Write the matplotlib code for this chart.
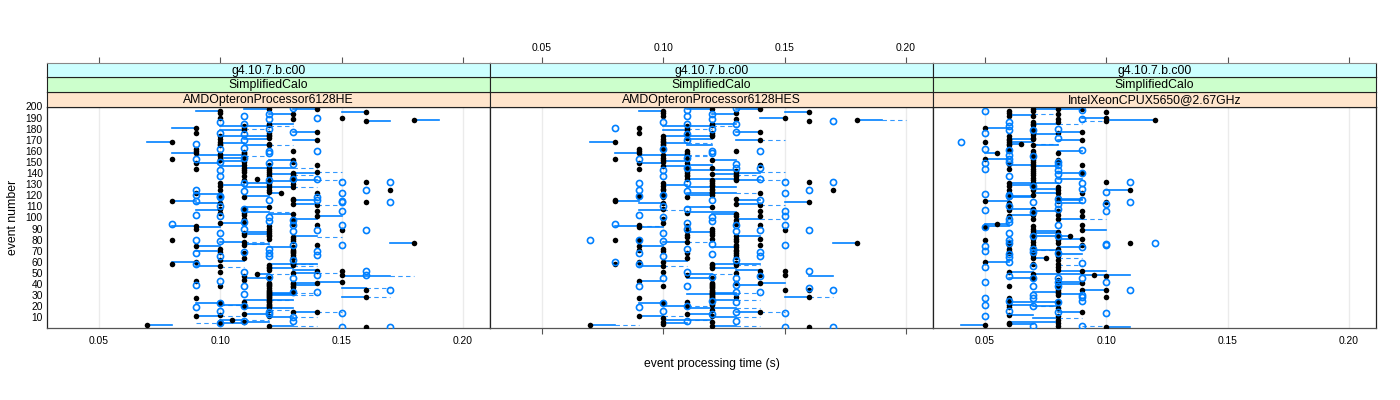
import matplotlib
matplotlib.use('Agg')
import matplotlib.pyplot as plt

plt.rcParams['font.family'] = ['Liberation Sans', 'DejaVu Sans']

# ----------- VALUES -----------------------------------
strip_top = 'g4.10.7.b.c00'
strip_mid = 'SimplifiedCalo'
strip_cpu = ['AMDOpteronProcessor6128HE', 'AMDOpteronProcessor6128HES', 'IntelXeonCPUX5650@2.67GHz']
x_ticks = [0.05, 0.10, 0.15, 0.20]
y_ticks = list(range(10, 201, 10))

# events per time value, filled black points
he_black = {
    0.07: [3],
    0.08: [168, 153, 115, 80, 58],
    0.09: [181, 176, 162, 160, 158, 149, 144, 122, 92, 90, 74, 60, 43, 27, 11],
    0.10: [196, 194, 190, 173, 171, 168, 166, 165, 157, 155, 153, 152, 131, 128, 125, 118, 113, 108, 104, 95, 72, 69, 62, 56, 51, 38, 23, 12, 6, 5],
    0.105: [8],
    0.11: [182, 181, 179, 159, 158, 157, 155, 152, 150, 147, 145, 143, 141, 137, 134, 118, 108, 104, 102, 99, 95, 86, 84, 78, 75, 68, 63, 47, 44, 24, 20, 13, 6],
    0.115: [135, 49],
    0.12: [198, 184, 183, 176, 174, 173, 172, 166, 165, 147, 145, 143, 141, 139, 137, 133, 131, 129, 127, 125, 123, 109, 92, 90, 88, 86, 84, 83, 81,
            57, 55, 54, 53, 45, 41, 40, 39, 38, 36, 35, 34, 33, 32, 31, 30, 29, 28, 27, 26, 25, 24, 22, 21, 20, 19, 17, 11, 2],
    0.125: [122],
    0.13: [193, 189, 160, 152, 150, 140, 139, 137, 135, 134, 133, 130, 127, 117, 116, 112, 103, 99, 98, 96, 95, 94, 82, 81, 79, 73, 71, 70, 69, 68, 66, 64, 63, 59, 58, 57, 50, 41, 40, 38, 37, 35, 33, 15],
    0.14: [198, 177, 170, 147, 141, 122, 111, 106, 101, 93, 75, 52, 41, 15],
    0.15: [190, 89, 52, 48, 42],
    0.16: [195, 187, 132, 114, 35, 28, 1],
    0.17: [125],
    0.18: [188, 77],
}
# events per time value, open blue rings
he_ring = {
    0.08: [94],
    0.09: [166, 153, 125, 120, 115, 102, 80, 68, 58, 39, 19],
    0.10: [186, 176, 162, 150, 143, 137, 119, 118, 110, 101, 86, 79, 65, 43, 23, 16, 5],
    0.11: [191, 184, 175, 170, 163, 154, 131, 124, 108, 96, 90, 69, 51, 38, 31, 20, 7],
    0.12: [193, 189, 180, 160, 158, 149, 134, 116, 100, 97, 72, 68, 65, 46, 15, 13],
    0.13: [199, 177, 148, 135, 98, 93, 88, 75, 62, 45, 33, 10, 7],
    0.14: [190, 160, 135, 118, 116, 89, 70, 66, 48, 33],
    0.15: [132, 122, 115, 114, 106, 93, 75, 14, 1],
    0.16: [125, 89, 52, 48],
    0.17: [132, 114, 35, 1],
}
# event, start, end
he_solid = [
    (196, .09, .10), (195, .15, .16), (198, .11, .12), (198, .13, .14), (193, .12, .13), (187, .16, .17),
    (188, .18, .19), (182, .10, .12), (184, .12, .13), (181, .08, .09), (179, .10, .11), (177, .13, .14),
    (173, .10, .12), (171, .11, .12), (170, .13, .14), (168, .07, .08), (167, .10, .11), (165, .11, .12),
    (158, .08, .09), (156, .09, .11), (154, .10, .11), (152, .12, .13), (149, .09, .10), (151, .10, .11),
    (146, .10, .11), (145, .11, .13), (140, .13, .14), (139, .12, .13), (134, .13, .14), (133, .12, .13),
    (131, .11, .12), (129, .10, .11), (127, .12, .13), (127, .11, .12), (122, .12, .125), (121, .09, .10),
    (119, .11, .12), (116, .13, .14), (115, .08, .09), (113, .09, .10), (112, .13, .14), (109, .11, .12),
    (107, .09, .10), (105, .11, .12), (103, .12, .13), (101, .14, .15), (99, .13, .14), (95, .10, .11),
    (92, .08, .09), (91, .09, .10), (87, .11, .12), (85, .11, .12), (83, .13, .14), (78, .10, .11),
    (76, .11, .12), (74, .09, .10), (73, .12, .13), (70, .09, .10), (77, .17, .18), (61, .10, .11),
    (60, .08, .09), (58, .12, .14), (56, .09, .10), (54, .12, .13), (53, .13, .14), (50, .13, .14),
    (49, .115, .12), (47, .15, .17), (45, .11, .12), (41, .13, .14), (42, .14, .15), (39, .13, .14),
    (36, .15, .16), (28, .15, .16), (32, .12, .13), (31, .12, .13), (30, .12, .13), (26, .11, .13),
    (23, .09, .10), (21, .10, .11), (18, .11, .13), (15, .13, .14), (11, .09, .10), (13, .11, .12),
    (10, .12, .13), (8, .10, .11), (6, .11, .12), (5, .10, .11), (3, .07, .08), (2, .12, .13),
]
he_dash = [
    (182, .12, .13), (180, .11, .12), (165, .12, .13), (155, .11, .12), (145, .13, .14), (141, .14, .15),
    (138, .13, .14), (134, .14, .15), (127, .13, .14), (111, .14, .15), (105, .12, .13), (82, .14, .15),
    (78, .11, .12), (76, .11, .12), (58, .13, .14), (56, .13, .14), (55, .10, .11), (50, .14, .15),
    (49, .12, .13), (47, .17, .18), (36, .16, .17), (28, .16, .17), (32, .13, .14), (30, .13, .14),
    (26, .12, .13), (21, .10, .11), (17, .12, .13), (15, .14, .15), (11, .10, .11), (10, .13, .14),
    (8, .11, .12), (5, .09, .10), (2, .13, .14),
]

hes_black = {
    0.07: [3],
    0.08: [168, 153, 116, 115, 80, 58],
    0.09: [181, 176, 162, 160, 158, 149, 144, 119, 93, 91, 80, 74, 71, 60, 43, 27, 11],
    0.10: [196, 194, 191, 173, 171, 169, 168, 166, 165, 162, 156, 154, 152, 150, 146, 131, 128, 126, 125, 120, 118, 113, 108, 99, 95, 72, 70, 60, 56, 51, 38, 23, 9, 6, 4],
    0.11: [182, 181, 179, 174, 172, 160, 158, 156, 153, 149, 145, 142, 140, 138, 137, 135, 118, 104, 92, 88, 84, 82, 78, 68, 63, 48, 24, 20, 13],
    0.12: [198, 184, 183, 176, 174, 173, 152, 145, 139, 134, 133, 131, 129, 128, 126, 125, 123, 122, 120, 109, 90, 88, 86, 84, 81, 58, 57, 55, 54, 45,
           41, 40, 39, 38, 37, 36, 35, 34, 33, 32, 31, 30, 29, 28, 27, 26, 24, 22, 21, 17, 11, 6, 2],
    0.13: [194, 189, 160, 142, 140, 138, 137, 135, 134, 117, 112, 103, 101, 98, 96, 94, 83, 81, 79, 75, 73, 71, 70, 68, 66, 64, 59, 57, 50, 41, 28],
    0.14: [198, 177, 170, 147, 122, 111, 106, 101, 93, 81, 75, 52, 48, 41, 15],
    0.15: [190, 89, 52, 48, 35],
    0.16: [195, 187, 132, 114, 35, 28, 1],
    0.17: [125],
    0.18: [188, 77],
}
hes_ring = {
    0.07: [80],
    0.08: [181, 94, 60],
    0.09: [153, 131, 125, 119, 102, 80, 68, 58, 38, 19],
    0.10: [186, 162, 143, 137, 120, 110, 100, 86, 79, 65, 45, 23, 16],
    0.11: [197, 191, 184, 175, 170, 154, 145, 131, 124, 108, 95, 90, 72, 51, 38, 20, 7],
    0.12: [193, 189, 180, 160, 158, 116, 100, 97, 76, 67, 46, 25, 13],
    0.13: [199, 184, 177, 148, 145, 93, 88, 62, 45, 39, 33, 24, 15, 7],
    0.14: [160, 145, 135, 116, 89, 69, 65, 47, 33],
    0.15: [132, 122, 106, 101, 93, 75, 14, 1],
    0.16: [125, 89, 52, 36],
    0.17: [187, 132, 35, 1],
}
hes_solid = [
    (196, .09, .10), (195, .15, .16), (198, .11, .12), (198, .13, .14), (193, .12, .13), (190, .14, .15),
    (188, .18, .19), (182, .10, .12), (184, .12, .13), (179, .10, .11), (177, .13, .14), (173, .10, .12),
    (171, .11, .12), (170, .13, .14), (168, .07, .08), (167, .10, .11), (165, .11, .12), (158, .08, .09),
    (156, .09, .11), (152, .12, .13), (149, .09, .10), (151, .10, .11), (146, .10, .11), (147, .11, .12),
    (143, .11, .13), (140, .13, .14), (139, .12, .13), (134, .13, .14), (135, .11, .13), (129, .10, .11),
    (127, .11, .13), (122, .11, .13), (120, .11, .12), (114, .15, .16), (115, .08, .09), (116, .13, .14),
    (113, .09, .10), (112, .13, .14), (109, .11, .12), (107, .09, .10), (105, .11, .13), (103, .12, .13),
    (99, .13, .14), (92, .08, .09), (91, .09, .10), (87, .11, .12), (83, .13, .14), (78, .10, .11),
    (74, .09, .10), (73, .12, .13), (77, .17, .18), (61, .10, .11), (58, .12, .14), (56, .09, .10),
    (54, .12, .13), (53, .13, .14), (49, .11, .12), (47, .16, .17), (45, .11, .12), (43, .09, .10),
    (41, .14, .15), (39, .13, .14), (31, .11, .13), (32, .12, .13), (28, .15, .16), (26, .12, .13),
    (23, .09, .10), (20, .10, .11), (18, .11, .13), (15, .13, .14), (11, .09, .10), (13, .11, .12),
    (10, .12, .13), (8, .10, .12), (5, .10, .11), (3, .07, .08), (2, .12, .13),
]
hes_dash = [
    (188, .19, .20), (182, .12, .13), (180, .11, .12), (170, .14, .15), (167, .11, .12), (156, .11, .12),
    (155, .11, .12), (141, .14, .15), (138, .13, .14), (134, .14, .15), (122, .13, .14), (111, .14, .15),
    (107, .10, .11), (99, .14, .15), (92, .09, .10), (78, .11, .12), (57, .13, .14), (56, .10, .11),
    (49, .12, .13), (32, .13, .14), (28, .16, .17), (26, .13, .14), (20, .11, .12), (18, .13, .14),
    (15, .14, .15), (11, .10, .11), (10, .13, .14), (8, .11, .12), (3, .08, .09), (2, .13, .14),
]

xeon_black = {
    0.05: [181, 168, 153, 115, 91, 80, 60, 3],
    0.055: [158, 94],
    0.06: [196, 194, 191, 173, 171, 170, 168, 166, 165, 162, 160, 148, 144, 131, 128, 125, 122, 118, 113, 111, 107, 101, 78, 75, 72, 70, 68, 51, 38, 27, 24, 21, 19, 12, 5, 4],
    0.065: [166],
    0.07: [198, 196, 191, 186, 184, 183, 180, 178, 176, 174, 172, 171, 165, 160, 158, 156, 154, 152, 150, 148, 146, 144, 142, 140, 138, 136, 134, 131, 129, 127, 125, 120,
           108, 104, 102, 99, 92, 90, 88, 86, 84, 81, 78, 75, 73, 68, 66, 63, 58, 49, 45],
    0.075: [63],
    0.08: [198, 193, 189, 186, 176, 158, 152, 150, 127, 125, 122, 118, 115, 106, 102, 99, 87, 83, 80, 77, 72, 70, 68, 65, 62, 58, 55, 53, 44, 42, 40, 38, 36, 35, 33, 32, 30, 24, 18, 11, 8, 5, 2],
    0.085: [83],
    0.09: [198, 177, 170, 147, 140, 122, 106, 101, 93, 89, 81, 75, 52, 41, 35, 15],
    0.095: [48],
    0.10: [195, 190, 187, 132, 114, 47, 35, 28, 1],
    0.11: [125, 77],
    0.12: [188],
}
xeon_ring = {
    0.04: [168],
    0.05: [196, 176, 162, 149, 144, 121, 107, 91, 74, 70, 55, 42, 27, 21, 11],
    0.06: [186, 182, 179, 161, 156, 153, 150, 137, 119, 120, 110, 99, 96, 86, 80, 77, 67, 64, 60, 47, 25, 16],
    0.07: [179, 155, 128, 114, 105, 83, 72, 69, 56, 45, 38, 30, 27, 20, 2],
    0.08: [180, 172, 150, 147, 143, 139, 134, 117, 112, 108, 93, 83, 68, 45, 42, 38, 24, 15],
    0.09: [197, 189, 161, 140, 131, 126, 116, 73, 59, 45, 30, 28, 25, 2],
    0.10: [123, 112, 106, 76, 75, 42, 14],
    0.11: [132, 114, 35],
    0.12: [77],
}
xeon_solid = [
    (198, .07, .08), (198, .08, .09), (192, .06, .07), (190, .09, .10), (188, .10, .12), (184, .07, .08),
    (181, .05, .06), (177, .08, .09), (175, .07, .08), (171, .06, .07), (170, .08, .09), (168, .06, .07),
    (166, .06, .065), (165, .07, .08), (160, .08, .09), (158, .05, .055), (153, .05, .06), (147, .06, .07),
    (146, .07, .08), (140, .08, .09), (135, .08, .09), (131, .06, .08), (129, .06, .07), (126, .07, .08),
    (125, .10, .11), (122, .07, .08), (119, .06, .07), (117, .08, .09), (118, .06, .07), (115, .05, .06),
    (116, .08, .09), (113, .08, .09), (108, .06, .07), (106, .07, .08), (102, .06, .07), (99, .08, .09),
    (94, .05, .06), (92, .05, .06), (88, .07, .08), (89, .09, .10), (86, .07, .08), (83, .07, .08),
    (83, .08, .085), (81, .08, .09), (73, .08, .09), (71, .07, .08), (67, .08, .09), (63, .07, .075),
    (60, .05, .06), (52, .08, .10), (51, .06, .07), (49, .07, .09), (48, .09, .11), (45, .06, .07),
    (42, .08, .09), (40, .08, .09), (35, .09, .10), (33, .07, .08), (31, .08, .09), (24, .06, .08),
    (21, .06, .07), (20, .07, .08), (15, .08, .09), (12, .06, .07), (9, .07, .08), (6, .06, .08),
    (4, .06, .07), (3, .04, .05), (1, .10, .11),
]
xeon_dash = [
    (193, .07, .08), (184, .08, .09), (187, .09, .10), (166, .07, .08), (99, .09, .10), (71, .07, .08),
    (63, .08, .09), (57, .08, .09), (20, .07, .08), (9, .08, .09), (2, .09, .10),
]
# ------------------------------------------------------

W, H = 1400.0, 400.0
panel_edges = [47, 490, 933, 1376]
plot_top, plot_bottom = 106.5, 327.5
strip_rows = [(92, 106.5, '#ffe5cc'), (77, 92, '#ccffcc'), (63, 77, '#ccffff')]
blue = '#0080ff'


def draw_panel(ax, black, ring, solid, dash):
    ax.set_xlim(0.0286, 0.2112)
    ax.set_ylim(0.8, 200)
    ax.grid(axis='x', color='#ebebeb', linewidth=1)
    ax.set_axisbelow(True)
    for ev, x0, x1 in solid:
        ax.plot([x0, x1], [ev, ev], color=blue, linewidth=1.2, zorder=2)
    for ev, x0, x1 in dash:
        ax.plot([x0, x1], [ev, ev], color=blue, linewidth=0.8, linestyle=(0, (4, 3)), alpha=0.8, zorder=2)
    for t, events in black.items():
        ax.plot([t] * len(events), events, 'o', color='black', markersize=4.0, markeredgewidth=0, zorder=3)
    # rings go over the dots, the dot still shows through the hole
    for t, events in ring.items():
        ax.plot([t] * len(events), events, 'o', markerfacecolor='none', markeredgecolor=blue,
                markersize=4.4, markeredgewidth=1.2, zorder=4)
    for s in ax.spines.values():
        s.set_linewidth(0.9)
        s.set_color('#222222')
    ax.spines['bottom'].set_color('#555555')


def main():
    fig = plt.figure(figsize=(14, 4), dpi=100)
    panels = [(he_black, he_ring, he_solid, he_dash),
              (hes_black, hes_ring, hes_solid, hes_dash),
              (xeon_black, xeon_ring, xeon_solid, xeon_dash)]

    for i, (black, ring, solid, dash) in enumerate(panels):
        left, right = panel_edges[i], panel_edges[i + 1]
        ax = fig.add_axes([left / W, 1 - plot_bottom / H, (right - left) / W, (plot_bottom - plot_top) / H])
        draw_panel(ax, black, ring, solid, dash)

        ax.set_xticks(x_ticks)
        ax.set_yticks(y_ticks if i == 0 else [])
        ax.tick_params(axis='y', length=0, labelsize=7.4, pad=3)
        if i == 1:
            # middle panel only has tick marks at the bottom
            ax.tick_params(axis='x', length=4, width=0.8, color='#555555', labelbottom=False)
        else:
            ax.tick_params(axis='x', length=0, labelsize=7.4, pad=6)
            ax.set_xticklabels(['%.2f' % t for t in x_ticks])

        labels = [strip_cpu[i], strip_mid, strip_top]
        for (top, bottom, colour), label in zip(strip_rows, labels):
            st = fig.add_axes([left / W, 1 - bottom / H, (right - left) / W, (bottom - top) / H])
            st.set_facecolor(colour)
            st.set_xlim(ax.get_xlim())
            st.set_yticks([])
            st.text(0.5, 0.44, label, transform=st.transAxes, ha='center', va='center', fontsize=8.8)
            st.set_xticks([])
            for s in st.spines.values():
                s.set_linewidth(0.8)
                s.set_color('#222222')
            if colour == '#ccffff':
                st.spines['top'].set_color('#888888')
                st.xaxis.tick_top()
                st.set_xticks(x_ticks)
                st.tick_params(axis='x', length=4.3, width=0.8, color='#555555', labelsize=7.4, pad=3,
                               labeltop=(i == 1))
                if i == 1:
                    st.set_xticklabels(['%.2f' % t for t in x_ticks])

    fig.text(711.5 / W, 1 - 364 / H, 'event processing time (s)', ha='center', va='center', fontsize=8.7)
    fig.text(13 / W, 1 - 217 / H, 'event number', rotation=90, ha='center', va='center', fontsize=8.8)

    fig.savefig('out.png', dpi=100)


if __name__ == '__main__':
    main()
